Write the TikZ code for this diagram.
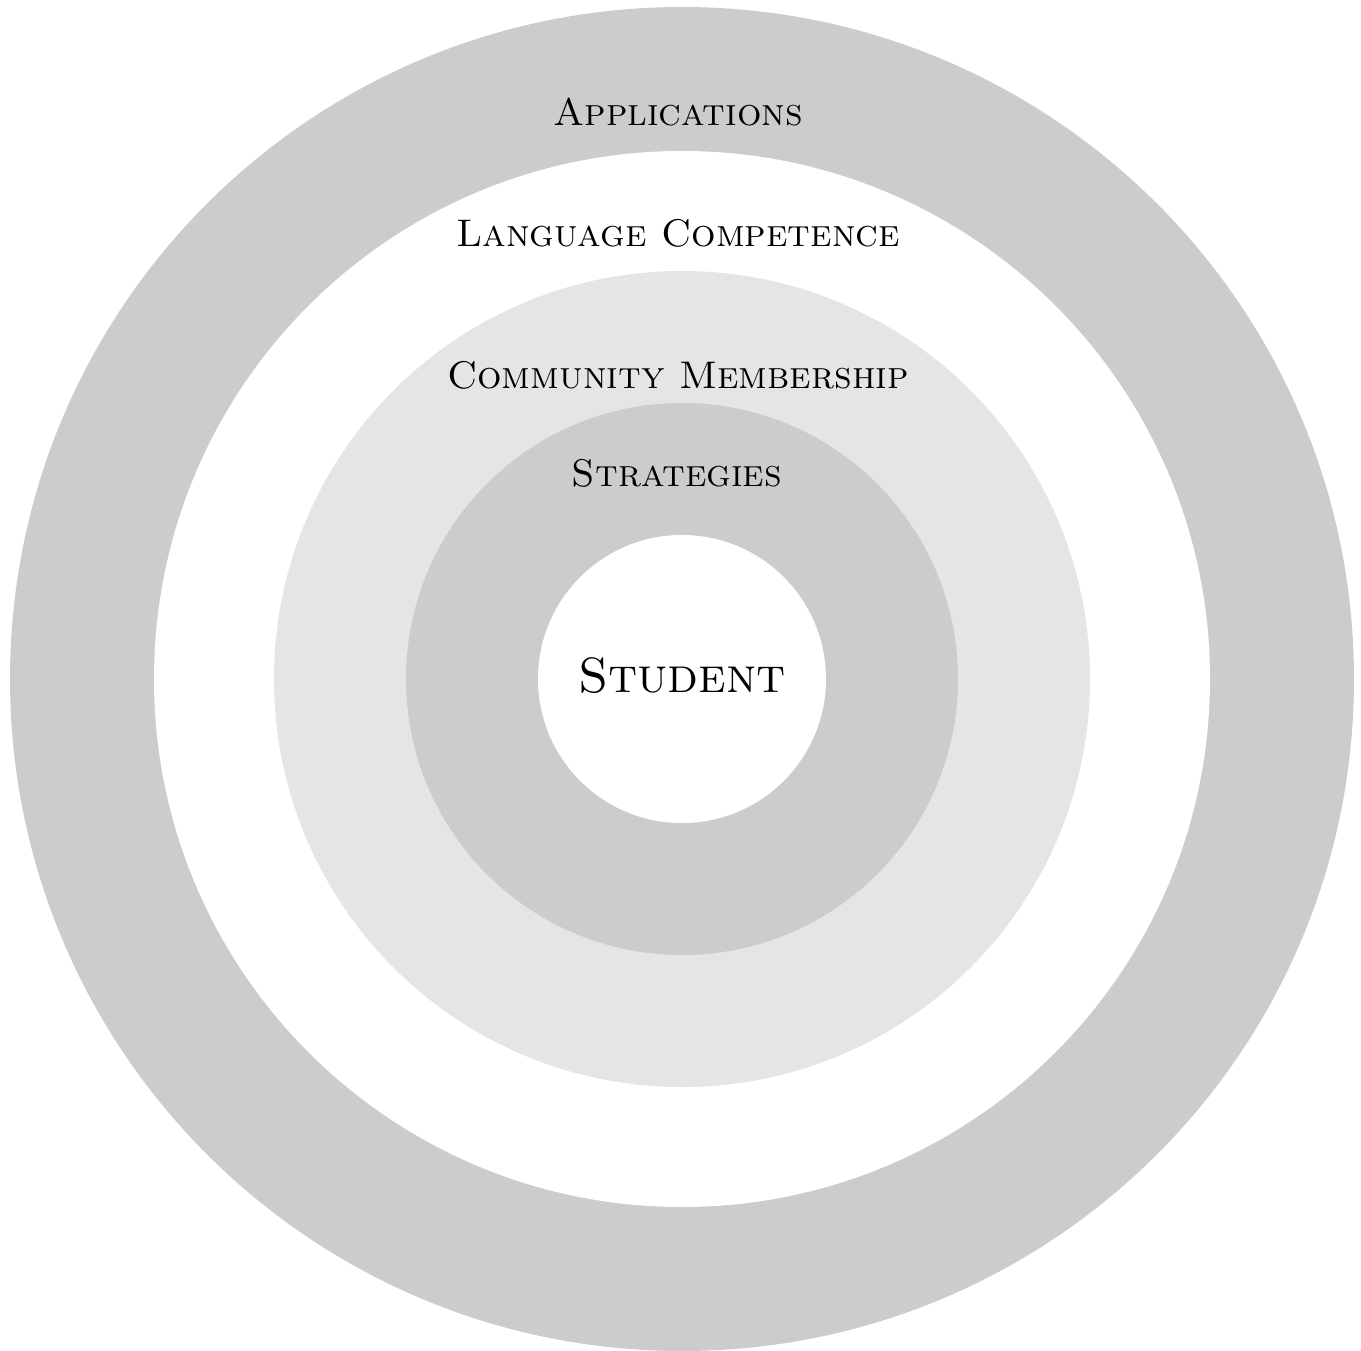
\documentclass[tikz,border=0pt]{standalone}
\begin{document}
\begin{tikzpicture}[x=1pt,y=-1pt,
  ring/.style={draw=none},
  lbl/.style={anchor=base,inner sep=0pt,font=\fontsize{38.5}{46}\selectfont\scshape},
  biglbl/.style={anchor=base,inner sep=0pt,font=\fontsize{49.5}{58}\selectfont\scshape}]
\useasboundingbox (0,0) rectangle (1361,1351);
\coordinate (c) at (682,679);
\fill[ring,fill=black!20] (c) circle[radius=672];
\fill[ring,fill=white] (c) circle[radius=528];
\fill[ring,fill=black!10] (c) circle[radius=408];
\fill[ring,fill=black!20] (c) circle[radius=276];
\fill[ring,fill=white] (c) circle[radius=144];
\node[lbl] (app) at (678,126) {Applications};
\node[lbl] (lang) at (678,247) {Language Competence};
\node[lbl] (comm) at (678,388) {Community Membership};
\node[lbl] (strat) at (677,486) {Strategies};
\node[biglbl] (stud) at (682,692) {Student};
\end{tikzpicture}
\end{document}
